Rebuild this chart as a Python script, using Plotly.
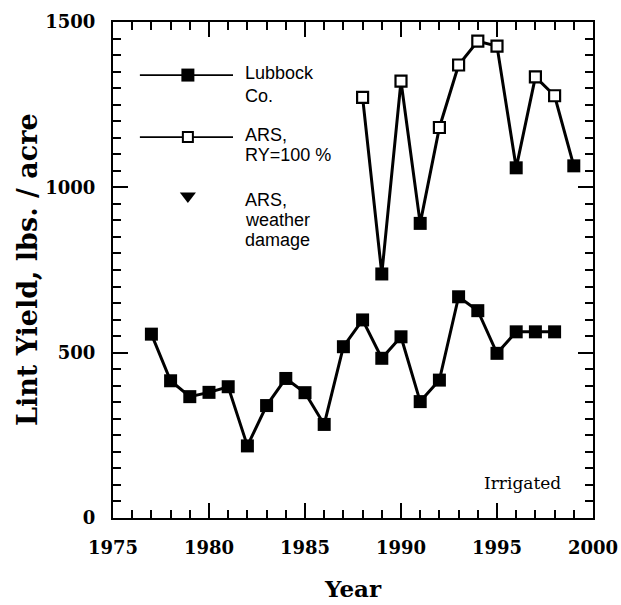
import plotly.graph_objects as go

# ---- data ----
lubbock_years = list(range(1977, 1999))
lubbock_yield = [556, 415, 367, 380, 397, 218, 340, 422, 379, 283, 518, 599,
                 483, 548, 352, 417, 669, 627, 498, 563, 563, 563]

ars_years = list(range(1988, 2000))
ars_yield = [1272, 738, 1321, 891, 1181, 1370, 1442, 1427, 1059, 1334, 1277, 1065]
ars_damaged_years = [1989, 1991, 1996, 1999]

x_ticks = [1975, 1980, 1985, 1990, 1995, 2000]
y_ticks = [0, 500, 1000, 1500]

legend_labels = [["Lubbock", "Co."], ["ARS,", "RY=100 %"], ["ARS,", "weather", "damage"]]
note_text = "Irrigated"
x_title = "Year"
y_title = "Lint Yield, lbs. / acre"

SERIF = "DejaVu Serif"
SANS = "Liberation Sans, Arial, sans-serif"

fig = go.Figure()

fig.add_trace(go.Scatter(
    x=lubbock_years, y=lubbock_yield, mode="lines+markers",
    line=dict(color="black", width=3),
    marker=dict(symbol="square", size=13, color="black"),
    showlegend=False, hoverinfo="skip"))

# ARS line, then open and filled markers
fig.add_trace(go.Scatter(
    x=ars_years, y=ars_yield, mode="lines",
    line=dict(color="black", width=3), showlegend=False, hoverinfo="skip"))
open_x = [yr for yr in ars_years if yr not in ars_damaged_years]
open_y = [v for yr, v in zip(ars_years, ars_yield) if yr not in ars_damaged_years]
fill_x = [yr for yr in ars_years if yr in ars_damaged_years]
fill_y = [v for yr, v in zip(ars_years, ars_yield) if yr in ars_damaged_years]
fig.add_trace(go.Scatter(
    x=open_x, y=open_y, mode="markers",
    marker=dict(symbol="square", size=11, color="white", line=dict(color="black", width=2.2)),
    showlegend=False, hoverinfo="skip"))
fig.add_trace(go.Scatter(
    x=fill_x, y=fill_y, mode="markers",
    marker=dict(symbol="square", size=13, color="black"),
    showlegend=False, hoverinfo="skip"))

# ---- custom legend (overlay axes spanning the plot area, 0..1) ----
leg_line_x = [0.056, 0.25]
leg_marker_x = 0.156
leg_rows_y = [0.893, 0.768, 0.649]
for yy in leg_rows_y[:2]:
    fig.add_trace(go.Scatter(
        x=leg_line_x, y=[yy, yy], mode="lines", xaxis="x2", yaxis="y2",
        line=dict(color="black", width=1.8), showlegend=False, hoverinfo="skip"))
fig.add_trace(go.Scatter(
    x=[leg_marker_x], y=[leg_rows_y[0]], mode="markers", xaxis="x2", yaxis="y2",
    marker=dict(symbol="square", size=13, color="black"),
    showlegend=False, hoverinfo="skip"))
fig.add_trace(go.Scatter(
    x=[leg_marker_x], y=[leg_rows_y[1]], mode="markers", xaxis="x2", yaxis="y2",
    marker=dict(symbol="square", size=10, color="white", line=dict(color="black", width=2)),
    showlegend=False, hoverinfo="skip"))
fig.add_trace(go.Scatter(
    x=[leg_marker_x], y=[leg_rows_y[2]], mode="markers", xaxis="x2", yaxis="y2",
    marker=dict(symbol="triangle-down", size=14, color="black"),
    showlegend=False, hoverinfo="skip"))

text_line_y = [[0.897, 0.851], [0.773, 0.732], [0.642, 0.601, 0.560]]
annotations = []
for labels, ys in zip(legend_labels, text_line_y):
    for lab, yy in zip(labels, ys):
        annotations.append(dict(
            x=0.27, y=yy, xref="paper", yref="paper", text=lab, showarrow=False,
            xanchor="left", yanchor="middle", font=dict(family=SANS, size=18, color="black")))

annotations.append(dict(
    x=0.9375, y=0.0706, xref="paper", yref="paper", text=note_text, showarrow=False,
    xanchor="right", yanchor="middle", font=dict(family=SERIF, size=17, color="black")))
annotations.append(dict(
    x=0.5, y=-0.143, xref="paper", yref="paper", text="<b>%s</b>" % x_title, showarrow=False,
    xanchor="center", yanchor="middle", font=dict(family=SERIF, size=23, color="black")))
annotations.append(dict(
    x=-0.179, y=0.5, xref="paper", yref="paper", text="<b>%s</b>" % y_title, showarrow=False,
    textangle=-90, xanchor="center", yanchor="middle",
    font=dict(family=SERIF, size=27, color="black")))

axis_common = dict(
    showline=True, linecolor="black", linewidth=2,
    ticks="inside", ticklen=15, tickwidth=2, tickcolor="black",
    showgrid=False, zeroline=False, automargin=False,
    tickfont=dict(family=SERIF, size=18, color="black"),
)
x_minor = dict(dtick=1, ticklen=8, tickwidth=1.5, tickcolor="black", ticks="inside", showgrid=False)
y_minor = dict(dtick=50, ticklen=8, tickwidth=1.5, tickcolor="black", ticks="inside", showgrid=False)

fig.update_layout(
    width=621, height=605,
    margin=dict(l=113, r=28, t=22, b=87, autoexpand=False),
    paper_bgcolor="white", plot_bgcolor="white",
    xaxis=dict(range=[1975, 2000], tickvals=x_ticks,
               ticktext=["<b>%d</b>" % v for v in x_ticks],
               minor=x_minor, ticklabelstandoff=12, **axis_common),
    yaxis=dict(range=[0, 1500], tickvals=y_ticks,
               ticktext=["<b>%d</b>" % v for v in y_ticks],
               minor=y_minor, ticklabelstandoff=12, **axis_common),
    xaxis2=dict(range=[0, 1], overlaying="x", visible=False),
    yaxis2=dict(range=[0, 1], overlaying="y", visible=False),
    xaxis3=dict(range=[1975, 2000], overlaying="x", side="top", tickvals=x_ticks,
                showticklabels=False, minor=x_minor, **axis_common),
    yaxis3=dict(range=[0, 1500], overlaying="y", side="right", tickvals=y_ticks,
                showticklabels=False, minor=y_minor, **axis_common),
    annotations=annotations,
    showlegend=False,
)

# invisible trace so the mirrored frame axes are drawn
fig.add_trace(go.Scatter(x=[1975], y=[0], xaxis="x3", yaxis="y3", mode="markers",
                         marker=dict(opacity=0), showlegend=False, hoverinfo="skip"))

fig.write_html("out.html", config={"displayModeBar": False},
               post_script="document.body.style.margin='0px';")
